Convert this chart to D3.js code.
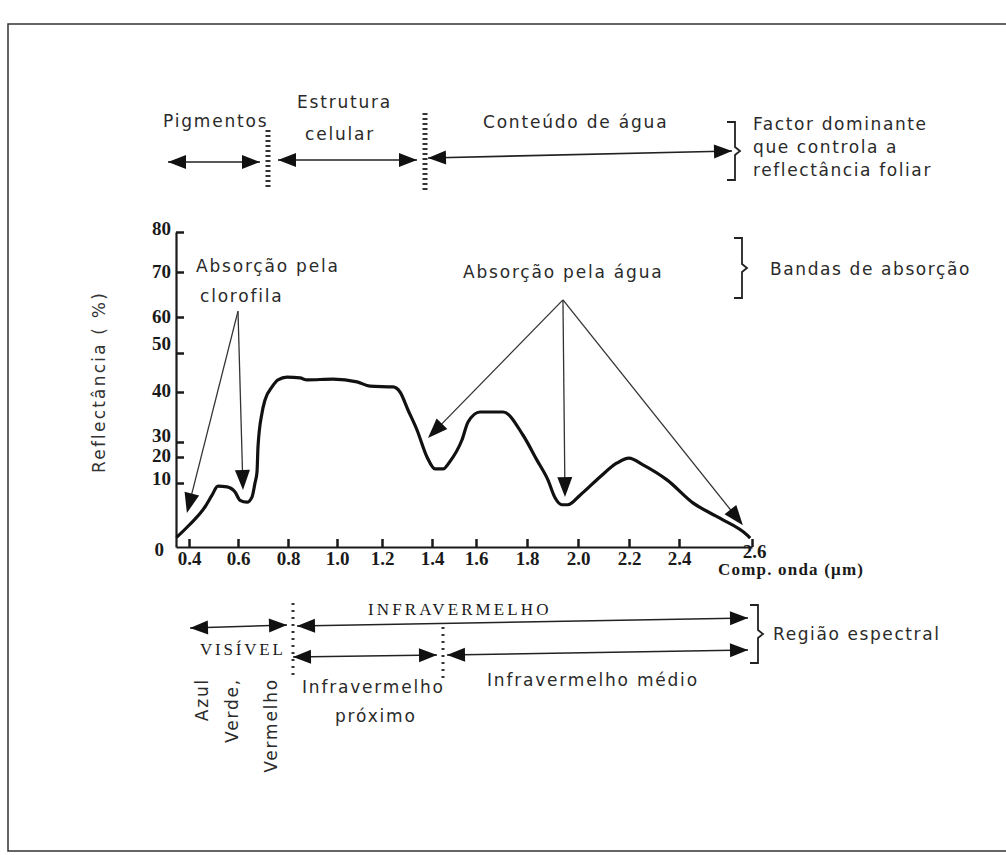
<!DOCTYPE html>
<html><head><meta charset="utf-8">
<script src="https://cdn.jsdelivr.net/npm/d3@7"></script>
<style>body{margin:0;background:#fff}svg{display:block}</style>
</head><body>
<svg id="c" width="1006" height="855"></svg>
<script>
// ---------- DATA ----------
const wavelength = [0.352,0.40,0.465,0.494,0.518,0.555,0.588,0.608,0.636,0.656,0.668,0.676,0.68,0.696,0.708,0.736,0.76,0.796,0.849,0.878,0.984,1.089,1.147,1.244,1.272,1.304,1.34,1.38,1.414,1.45,1.48,1.536,1.564,1.616,1.706,1.784,1.839,1.882,1.91,1.937,1.96,2.008,2.086,2.153,2.2,2.256,2.352,2.438,2.512,2.586,2.595];
const reflectance = [1.5,3.4,6.25,8.1,9.5,9.4,8.6,7.3,7.0,7.8,10,14.2,26.7,35.8,38.4,41.3,43.1,43.8,43.6,43.1,43.3,42.6,41.5,41.3,40,36.4,32.4,20,15.4,15.4,18.1,30.4,34,36,36,31.4,18.8,11.2,7.7,6.6,6.6,8.1,12.3,17.7,19.6,17.0,11.2,6.9,4.5,1.9,1.4];
const xTickValues = [0.4,0.6,0.8,1.0,1.2,1.4,1.6,1.8,2.0,2.2,2.4,2.6];
const xTickLabels = ["0.4","0.6","0.8","1.0","1.2","1.4","1.6","1.8","2.0","2.2","2.4","2.6"];
const yTickValues = [0,10,20,30,40,50,60,70,80];
const yTickLabels = ["0","10","20","30","40","50","60","70","80"];
// annotation targets (wavelength, reflectance)
const chloroApex = [0.6,61.3];
const chloroTips = [[0.392,5.3],[0.62,8.9]];
const waterApex = [1.941,63.8];
const waterTips = [[1.384,30.8],[1.949,7.8],[2.575,3.4]];

// ---------- LAYOUT ----------
const xDomain = [0.35,0.4,0.6,0.8,1.0,1.2,1.4,1.6,1.8,2.0,2.2,2.4,2.6];
const xRange  = [176,189,238,288,337,382,432,476,527,578,629,679,752];
const yDomain = [0,10,20,30,40,50,60,70,80];
const yRange  = [547,483,457,442,392,353,317,272,232];
const yLabelShift = [2,-5,-2,-7,-2,-10,-1,-1,-4];
const INK = "#1a1a1a";
const SANS = "'DejaVu Sans', sans-serif";
const SERIF = "'Liberation Serif', 'Times New Roman', serif";

const svg = d3.select("#c");
const x = d3.scaleLinear().domain(xDomain).range(xRange);
const y = d3.scaleLinear().domain(yDomain).range(yRange);

// frame
svg.append("rect").attr("x",8).attr("y",24).attr("width",1010).attr("height",827)
  .attr("fill","none").attr("stroke","#333").attr("stroke-width",1.5);

// axes
const gx = svg.append("g").attr("transform",`translate(0,${y(0)})`)
  .call(d3.axisBottom(x).tickValues(xTickValues).tickFormat((d,i)=>xTickLabels[i])
    .tickSizeInner(-8).tickSizeOuter(0).tickPadding(5));
gx.select(".domain").attr("stroke",INK).attr("stroke-width",2.2);
gx.selectAll(".tick line").attr("stroke",INK).attr("stroke-width",2.5);
gx.selectAll(".tick text").attr("font-family",SERIF).attr("font-size",19).attr("font-weight","bold").attr("fill",INK);
gx.selectAll(".tick text").filter(d=>d===2.6).attr("dy","0.35em").attr("y",4).attr("x",2);

const gy = svg.append("g").attr("transform",`translate(${x(0.35)},0)`)
  .call(d3.axisLeft(y).tickValues(yTickValues).tickFormat((d,i)=>yTickLabels[i])
    .tickSizeInner(-8).tickSizeOuter(0).tickPadding(5));
gy.select(".domain").attr("stroke",INK).attr("stroke-width",2.2);
gy.selectAll(".tick line").attr("stroke",INK).attr("stroke-width",2.5).filter(d=>d===0).remove();
gy.selectAll(".tick text").attr("font-family",SERIF).attr("font-size",19).attr("font-weight","bold").attr("fill",INK)
  .attr("y",(d,i)=>yLabelShift[i]);
gy.selectAll(".tick text").filter(d=>d===0).attr("x",-12);

svg.append("text").attr("x",718).attr("y",575).attr("font-family",SERIF).attr("font-weight","bold")
  .attr("font-size",17).attr("letter-spacing",1.2).attr("fill",INK).text("Comp. onda (μm)");

svg.append("text").attr("transform","translate(105,382) rotate(-90)").attr("text-anchor","middle")
  .attr("font-family",SANS).attr("font-size",17).attr("letter-spacing",2.2).attr("fill","#333")
  .text("Reflectância ( %)");

// curve
const pts = wavelength.map((w,i)=>[w,reflectance[i]]);
svg.append("path").datum(pts)
  .attr("d",d3.line().x(d=>x(d[0])).y(d=>y(d[1])).curve(d3.curveMonotoneX))
  .attr("fill","none").attr("stroke","#111").attr("stroke-width",3.2).attr("stroke-linejoin","round");

// helpers
function head(tx,ty,fx,fy,len,hw){
  const a=Math.atan2(ty-fy,tx-fx), c=Math.cos(a), s=Math.sin(a);
  const bx=tx-len*c, by=ty-len*s;
  svg.append("path").attr("d",`M${tx},${ty}L${bx-hw*s},${by+hw*c}L${bx+hw*s},${by-hw*c}Z`)
    .attr("fill","#111");
}
function dbl(x1,y1,x2,y2){
  svg.append("line").attr("x1",x1).attr("y1",y1).attr("x2",x2).attr("y2",y2)
    .attr("stroke","#222").attr("stroke-width",1.6);
  head(x1,y1,x2,y2,18,7); head(x2,y2,x1,y1,18,7);
}
function txt(x0,y0,s,opt={}){
  return svg.append("text").attr("x",x0).attr("y",y0).attr("font-family",opt.font||SANS)
    .attr("font-size",opt.size||17).attr("letter-spacing",opt.ls!==undefined?opt.ls:1.8)
    .attr("fill",opt.fill||"#2a2a2a").text(s);
}
function brace(bx,top,bot){
  const mid=(top+bot)/2;
  svg.append("path").attr("d",`M${bx-8},${top}H${bx}V${mid-4}L${bx+5},${mid}L${bx},${mid+4}V${bot}H${bx-8}`)
    .attr("fill","none").attr("stroke","#222").attr("stroke-width",1.8);
}
function ladder(lx,y1,y2,w,dash){
  svg.append("line").attr("x1",lx).attr("x2",lx).attr("y1",y1).attr("y2",y2)
    .attr("stroke","#333").attr("stroke-width",w).attr("stroke-dasharray",dash);
}
function fan(apex,tips){
  const ax=x(apex[0]), ay=y(apex[1]);
  tips.forEach(t=>{
    const tx=x(t[0]), ty=y(t[1]);
    const a=Math.atan2(ty-ay,tx-ax);
    svg.append("line").attr("x1",ax).attr("y1",ay).attr("x2",tx-10*Math.cos(a)).attr("y2",ty-10*Math.sin(a))
      .attr("stroke","#333").attr("stroke-width",1.3);
    head(tx,ty,ax,ay,20,7.5);
  });
}

// top band
txt(163,127,"Pigmentos");
txt(297,108,"Estrutura");
txt(305,140,"celular");
txt(483,128,"Conteúdo de água");
dbl(168,162,260,162);
dbl(278,160,417,160);
dbl(428,158,732,151);
ladder(268,130,190,5,"2,3");
ladder(425,113,190,5,"2,3");
brace(735,122,180);
txt(753,130,"Factor dominante",{ls:1.6});
txt(753,153,"que controla a",{ls:1.6});
txt(753,176,"reflectância foliar",{ls:1.6});

// absorption
txt(196,272,"Absorção pela");
txt(200,302,"clorofila");
txt(463,278,"Absorção pela água");
fan(chloroApex,chloroTips);
fan(waterApex,waterTips);
brace(742,238,298);
txt(770,275,"Bandas de absorção",{ls:1.6});

// spectral region
txt(368,615,"INFRAVERMELHO",{font:SERIF,size:17,ls:3.1,fill:"#1a1a1a"});
txt(200,655,"VISÍVEL",{font:SERIF,size:17,ls:2.8,fill:"#1a1a1a"});
dbl(190,628,287,625);
dbl(297,626,748,618);
dbl(293,657,437,655);
dbl(447,655,748,650);
ladder(293,603,680,3,"2,5");
ladder(443,627,678,3,"2,5");
brace(758,605,663);
txt(773,640,"Região espectral",{ls:1.6});
txt(302,693,"Infravermelho");
txt(335,722,"próximo");
txt(487,686,"Infravermelho médio");
[["Azul",208],["Verde,",238],["Vermelho",277]].forEach(([s,bx])=>{
  svg.append("text").attr("transform",`translate(${bx},678) rotate(-90)`).attr("text-anchor","end")
    .attr("font-family",SANS).attr("font-size",17).attr("letter-spacing",1.8).attr("fill","#2a2a2a").text(s);
});
</script>
</body></html>
